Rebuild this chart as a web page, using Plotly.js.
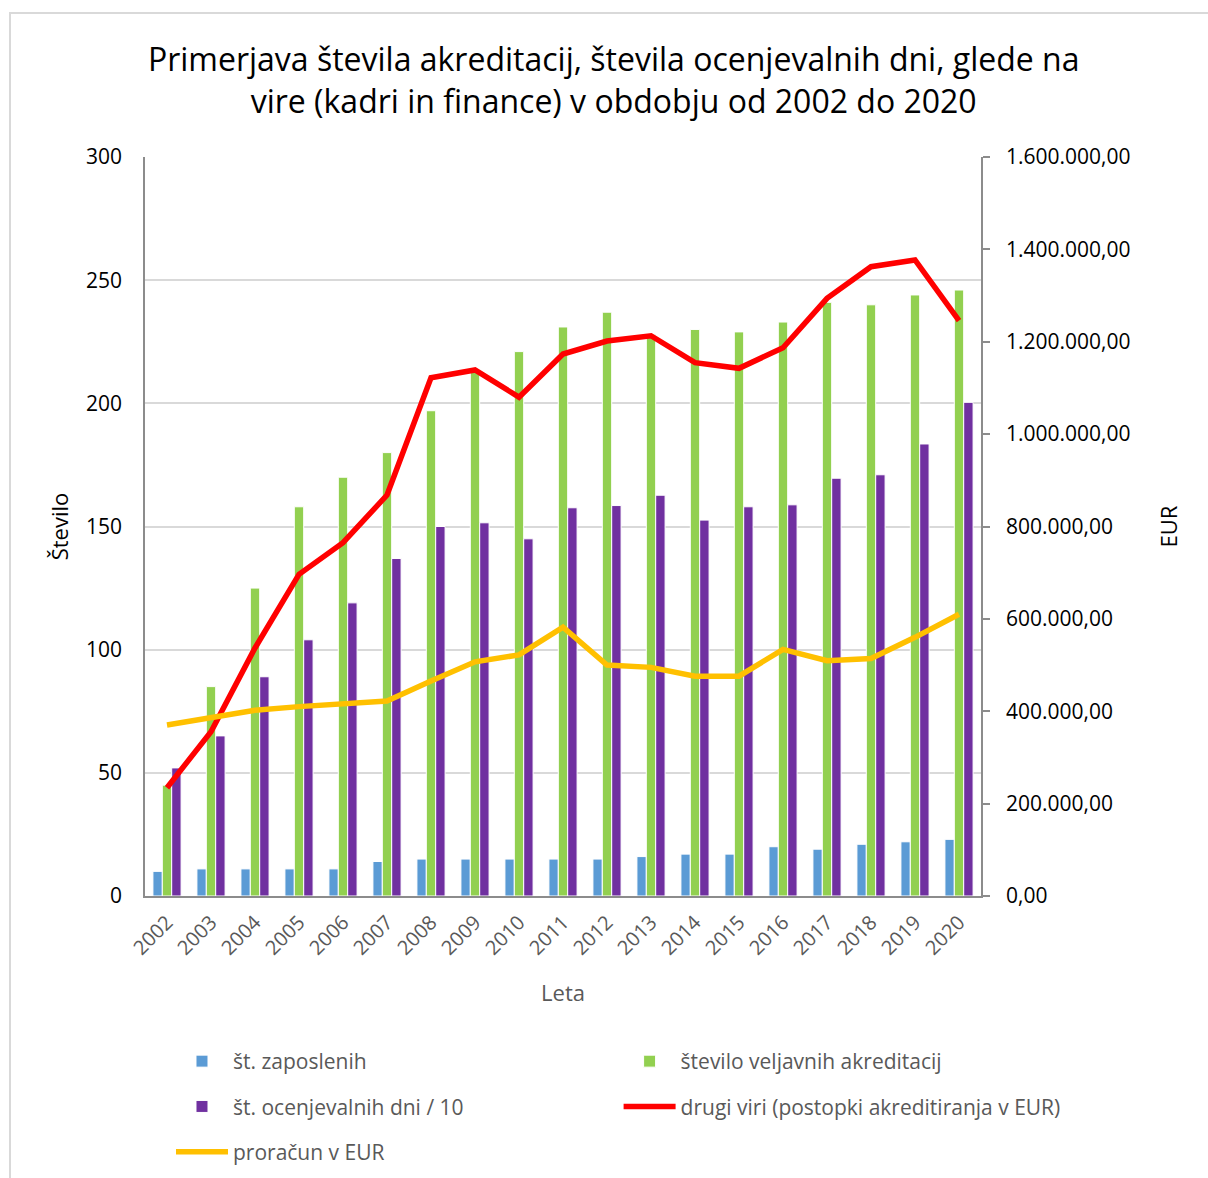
<!DOCTYPE html>
<html>
<head>
<meta charset="utf-8">
<script src="https://cdn.plot.ly/plotly-3.0.1.min.js"></script>
<style>
  body { margin:0; background:#fff; }
  #wrap { position:relative; width:1208px; height:1178px; overflow:hidden; }
  #frame { position:absolute; left:9px; top:12px; width:1210px; height:1180px; border:2px solid #d9d9d9; box-sizing:border-box; }
  #plot { position:absolute; left:0; top:0; width:1208px; height:1178px; }
</style>
</head>
<body>
<div id="wrap">
  <div id="frame"></div>
  <div id="plot"></div>
</div>
<script>
// leta
var leta = ['2002','2003','2004','2005','2006','2007','2008','2009','2010','2011',
            '2012','2013','2014','2015','2016','2017','2018','2019','2020'];

// št. zaposlenih
var zaposleni = [10, 11, 11, 11, 11, 14, 15, 15, 15, 15, 15, 16, 17, 17, 20, 19, 21, 22, 23];

// število veljavnih akreditacij
var akreditacije = [45, 85, 125, 158, 170, 180, 197, 213, 221, 231, 237, 228, 230, 229, 233, 241, 240, 244, 246];

// št. ocenjevalnih dni / 10
var ocen_dni = [52, 65, 89, 104, 119, 137, 150, 151.5, 145, 157.6, 158.5, 162.7, 152.6, 158, 158.8, 169.6, 171, 183.5, 200.4];

// drugi viri (postopki akreditiranja v EUR)
var drugi_viri = [234500, 355700, 537000, 696500, 765000, 868000, 1122000, 1139000, 1080000, 1173500,
                  1201600, 1213000, 1154700, 1142500, 1187000, 1294000, 1362500, 1377000, 1245500];

// proračun v EUR
var proracun = [370200, 387000, 402000, 410000, 415000, 422000, 465500, 507000, 522000, 581800,
                500000, 495000, 476000, 476000, 534000, 509500, 514000, 560000, 610000];

var font = 'Open Sans, sans-serif';

// levi stolpec legende: legend, desni: legend2
var data = [
  {x:leta, y:zaposleni, name:'št. zaposlenih', type:'bar', legendgroup:'g1',
   marker:{color:'#5b9bd5', line:{color:'#ffffff', width:1}}, legend:'legend'},
  {x:leta, y:akreditacije, name:'število veljavnih akreditacij', type:'bar', legendgroup:'g2',
   marker:{color:'#92d050', line:{color:'#ffffff', width:1}}, legend:'legend2'},
  {x:leta, y:ocen_dni, name:'št. ocenjevalnih dni / 10', type:'bar', legendgroup:'g3',
   marker:{color:'#7030a0', line:{color:'#ffffff', width:1}}, legend:'legend'},
  {x:leta, y:drugi_viri, name:'drugi viri (postopki akreditiranja v EUR)', type:'scatter', mode:'lines',
   legendgroup:'g4', yaxis:'y2', line:{color:'#ff0000', width:5.5}, legend:'legend2'},
  {x:leta, y:proracun, name:'proračun v EUR', type:'scatter', mode:'lines',
   legendgroup:'g5', yaxis:'y2', line:{color:'#ffc000', width:5.5}, legend:'legend'}
];

var legfont = {family:font, size:21, color:'#595959'};

var layout = {
  width:1208, height:1178,
  paper_bgcolor:'rgba(0,0,0,0)', plot_bgcolor:'rgba(0,0,0,0)',
  margin:{l:145, r:227, t:157, b:282, autoexpand:false},
  separators:',.',
  font:{family:font, color:'#000'},
  title:{text:'Primerjava števila akreditacij, števila ocenjevalnih dni, glede na<br>vire (kadri in finance) v obdobju od 2002 do 2020',
         font:{family:font, size:32, color:'#000'}, x:0.508, xanchor:'center', y:0.9397, yanchor:'middle'},
  barmode:'group', bargap:0.36, bargroupgap:0,
  xaxis:{type:'category', showline:true, linecolor:'#8c8c8c', linewidth:1.5, ticks:'', automargin:false,
         tickangle:-45, tickfont:{family:font, size:20, color:'#595959'}, ticklabelstandoff:5,
         title:{text:'Leta', font:{family:font, size:22, color:'#595959'}, standoff:26}},
  yaxis:{range:[0,300], dtick:50, showline:true, linecolor:'#8c8c8c', linewidth:1.5, automargin:false,
         gridcolor:'#d9d9d9', gridwidth:1.5, zeroline:false, ticks:'', ticklabelstandoff:17,
         tickfont:{family:font, size:21, color:'#000'},
         title:{text:'Število', font:{family:font, size:22, color:'#000'}, standoff:11}},
  yaxis2:{overlaying:'y', side:'right', range:[0,1600000], dtick:200000, tickformat:',.2f', automargin:false,
          showline:true, linecolor:'#8c8c8c', linewidth:1.5, showgrid:false, zeroline:false,
          ticks:'outside', ticklen:7, tickcolor:'#8c8c8c', tickwidth:1.5, ticklabelstandoff:12,
          tickfont:{family:font, size:21, color:'#000'},
          title:{text:'EUR', font:{family:font, size:22, color:'#000'}, standoff:32}},
  legend:{orientation:'v', x:0.0311, xanchor:'left', y:-0.1962, yanchor:'top',
          traceorder:'grouped', tracegroupgap:15, font:legfont, itemwidth:52},
  legend2:{orientation:'v', x:0.5665, xanchor:'left', y:-0.1962, yanchor:'top',
          traceorder:'grouped', tracegroupgap:15, font:legfont, itemwidth:52}
};

Plotly.newPlot('plot', data, layout, {displayModeBar:false});
</script>
</body>
</html>
